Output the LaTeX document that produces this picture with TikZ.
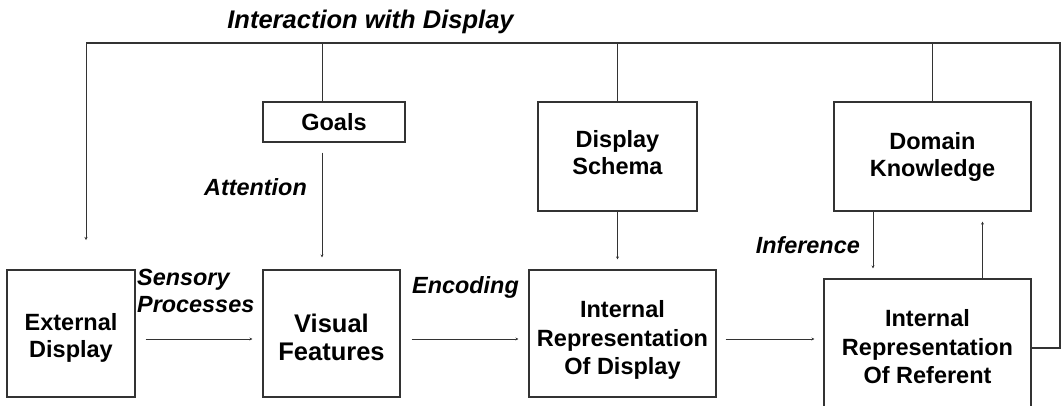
\documentclass[tikz,border=0pt]{standalone}
\usepackage{fontspec}
\setmainfont{Liberation Sans}
\usetikzlibrary{arrows.meta,calc}
\newcommand{\upstrut}[1]{\rule{0pt}{#1}}
\newcommand{\dnstrut}[1]{\rule[-#1]{0pt}{#1}}
\begin{document}
\begin{tikzpicture}[x=1pt,y=-1pt,
  box/.style={draw=black!80,line width=1.1pt,rectangle,inner sep=0pt,align=center,font=\bfseries\fontsize{23.5}{27}\selectfont},
  box3/.style={box,font=\bfseries\fontsize{23.5}{28.5}\selectfont},
  lbl/.style={font=\bfseries\itshape\fontsize{23.4}{27}\selectfont,inner sep=0pt},
  ln/.style={draw=black!80,line width=1pt},
  frame/.style={draw=black!80,line width=1.4pt},
  arr/.style={ln,-{Stealth[length=3pt,width=3pt]}}]
\useasboundingbox (0,0) rectangle (1063,405);
% boxes
\node[box,minimum width=128pt,minimum height=127pt] (ext) at (71,333.5) {\upstrut{25pt}External\\Display};
\node[box,minimum width=137pt,minimum height=127pt,font=\bfseries\fontsize{25.5}{28}\selectfont] (vis) at (331.5,333.5) {\upstrut{27pt}Visual\\Features};
\node[box3,minimum width=187pt,minimum height=127pt] (idisp) at (622.5,333.5) {\upstrut{30pt}Internal\\Representation\\Of Display};
\node[box3,minimum width=207pt,minimum height=136pt] (ref) at (927.5,347) {Internal\\Representation\\Of Referent};
\node[box,minimum width=142pt,minimum height=40pt] (goals) at (334,122) {Goals};
\node[box,minimum width=159pt,minimum height=109pt] (schema) at (617.5,156.5) {Display\\Schema\dnstrut{8pt}};
\node[box,minimum width=197pt,minimum height=109pt] (domain) at (932.5,156.5) {Domain\\Knowledge};
% feedback frame
\coordinate (tl) at (86,43);
\coordinate (tr) at (1060,43);
\coordinate (rb) at (1060,348);
\coordinate (lfb) at (86,240);
\draw[frame] (ref.east |- rb) -- (rb) -- (tr) -- (tl);
\draw[arr] (tl) -- (lfb);
\draw[ln] ([xshift=-9.5pt]vis.north |- goals.north) -- ([xshift=-9.5pt]vis.north |- tl);
\draw[ln] (schema.north) -- (schema.north |- tl);
\draw[ln] (domain.north) -- (domain.north |- tl);
% vertical arrows
\draw[arr,shorten <=10pt,shorten >=12pt] ([xshift=-9.5pt]vis.north |- goals.south) -- ([xshift=-9.5pt]vis.north);
\draw[arr,shorten >=10pt] (schema.south) -- (schema.south |- idisp.north);
\draw[arr,shorten >=10pt] ([xshift=-54.5pt]ref.north |- domain.south) -- ([xshift=-54.5pt]ref.north);
\draw[arr,shorten >=10pt] ([xshift=55pt]ref.north) -- ([xshift=55pt]ref.north |- domain.south);
% horizontal arrows
\draw[arr,shorten <=10pt,shorten >=10pt] ([yshift=-5.5pt]ext.east) -- ([yshift=-5.5pt]ext.east -| vis.west);
\draw[arr,shorten <=11pt,shorten >=10pt] ([yshift=-5.5pt]vis.east) -- ([yshift=-5.5pt]vis.east -| idisp.west);
\draw[arr,shorten <=9pt,shorten >=9pt] ([yshift=-5.5pt]idisp.east) -- ([yshift=-5.5pt]idisp.east -| ref.west);
% labels
\node[lbl,font=\bfseries\itshape\fontsize{25.5}{30}\selectfont,anchor=base] (tInter) at (370.5,28) {Interaction with Display};
\node[lbl,anchor=base east] (tAtt) at (307,195) {Attention};
\node[lbl,anchor=west,align=left] (tSens) at (137,291) {Sensory\\Processes};
\node[lbl,anchor=base east] (tEnc) at (519,293) {Encoding};
\node[lbl,anchor=base east] (tInf) at (860,253) {Inference};
\end{tikzpicture}
\end{document}
